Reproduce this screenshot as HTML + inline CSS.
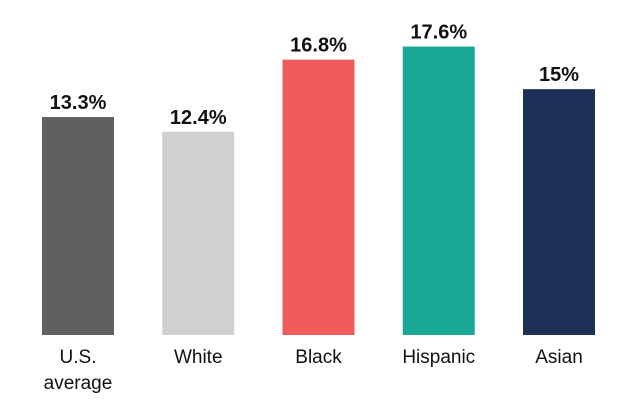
<!DOCTYPE html>
<html><head><meta charset="utf-8"><style>
html,body{margin:0;padding:0;background:#fff;}
svg{display:block;font-family:"Liberation Sans",sans-serif;}
</style></head><body>
<svg id="chart" width="640" height="411" viewBox="0 0 640 411"></svg>
<script>
const categories = ["U.S.|average","White","Black","Hispanic","Asian"];
const values = [13.3,12.4,16.8,17.6,15];
const valueLabels = ["13.3%","12.4%","16.8%","17.6%","15%"];
const colors = ["#606060","#cfd0d2","#f15b5b","#1aa896","#1f3057"];
const svg = document.getElementById('chart');
const NS = "http://www.w3.org/2000/svg";
const baseY = 335, pxPerUnit = 16.39, x0 = 42, step = 120.25, barW = 72;
function yScale(v){ return baseY - v * pxPerUnit; }
function xScale(i){ return x0 + i * step; }
categories.forEach((c,i)=>{
  const x = xScale(i), y = yScale(values[i]);
  const r = document.createElementNS(NS,'rect');
  r.setAttribute('x',x); r.setAttribute('y',y);
  r.setAttribute('width',barW); r.setAttribute('height',baseY-y);
  r.setAttribute('fill',colors[i]);
  
  
  svg.appendChild(r);
  const t = document.createElementNS(NS,'text');
  t.setAttribute('x',x+barW/2); t.setAttribute('y',y-8);
  t.setAttribute('text-anchor','middle'); t.setAttribute('font-size','20');
  t.setAttribute('font-weight','bold'); t.setAttribute('fill','#111');
  t.textContent = valueLabels[i];
  
  
  svg.appendChild(t);
  c.split('|').forEach((line,j)=>{
    const l = document.createElementNS(NS,'text');
    l.setAttribute('x',x+barW/2); l.setAttribute('y',363+j*26);
    l.setAttribute('text-anchor','middle'); l.setAttribute('font-size','19');
    l.setAttribute('fill','#111');
    l.textContent = line;
    
    
    svg.appendChild(l);
  });
});
</script>
</body></html>
